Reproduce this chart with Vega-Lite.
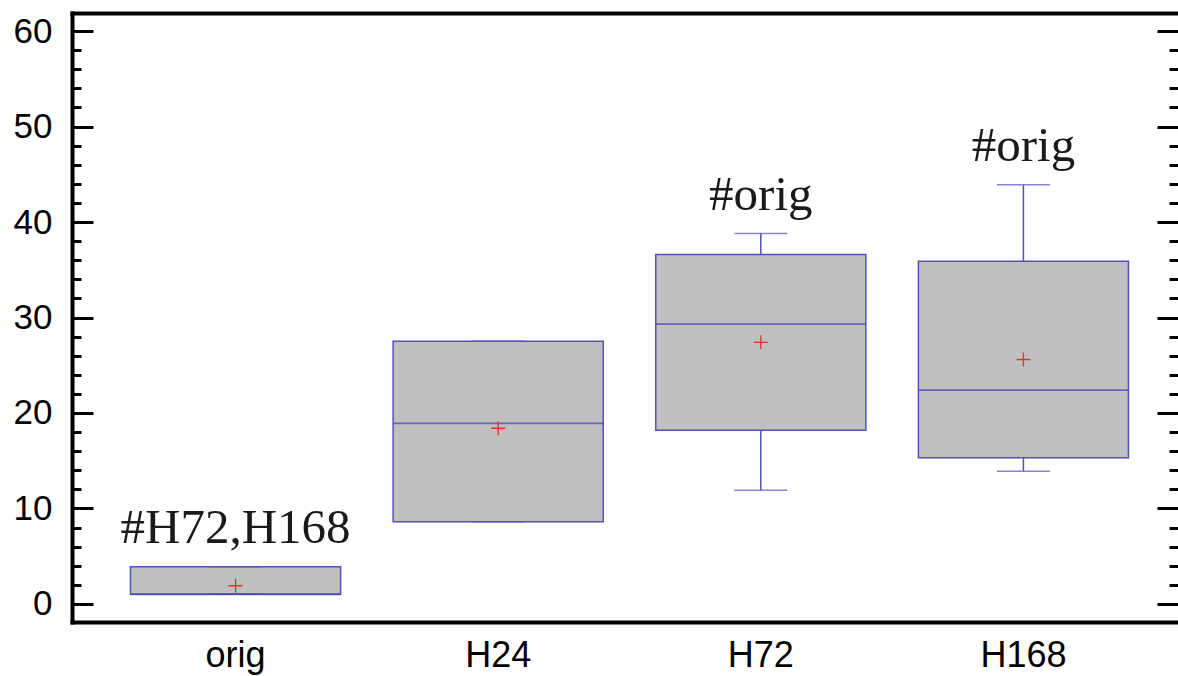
{
  "$schema": "https://vega.github.io/schema/vega-lite/v6.json",
  "width": 1106,
  "height": 609,
  "autosize": {"type": "none"},
  "padding": {"left": 72, "top": 13, "right": 0, "bottom": 54},
  "background": "white",
  "config": {
    "view": {"stroke": null},
    "axis": {
      "labelFont": "Liberation Sans",
      "labelFontSize": 35,
      "labelColor": "black",
      "domainColor": "black",
      "tickColor": "black",
      "grid": false,
      "title": null
    }
  },
  "data": {
    "values": [
      {"group": "orig", "min": 1.0, "q1": 1.0, "median": 1.0, "q3": 3.9, "max": 3.9, "mean": 1.9, "note": "#H72,H168"},
      {"group": "H24", "min": 8.6, "q1": 8.6, "median": 18.9, "q3": 27.5, "max": 27.5, "mean": 18.4, "note": ""},
      {"group": "H72", "min": 11.9, "q1": 18.2, "median": 29.3, "q3": 36.6, "max": 38.8, "mean": 27.4, "note": "#orig"},
      {"group": "H168", "min": 13.9, "q1": 15.3, "median": 22.4, "q3": 35.9, "max": 43.9, "mean": 25.6, "note": "#orig"}
    ]
  },
  "encoding": {
    "x": {
      "field": "group",
      "type": "nominal",
      "sort": ["orig", "H24", "H72", "H168"],
      "scale": {"paddingInner": 0, "paddingOuter": 0.1057, "align": 0.581},
      "axis": null
    }
  },
  "resolve": {"axis": {"x": "independent", "y": "independent"}},
  "layer": [
    {
      "mark": {"type": "bar", "width": {"band": 0.8}, "fill": "#c0c0c0", "stroke": "#5252b8", "strokeWidth": 1.5},
      "encoding": {
        "x": {
          "field": "group", "type": "nominal", "sort": ["orig", "H24", "H72", "H168"],
          "axis": {"orient": "bottom", "ticks": false, "labelAngle": 0, "labelPadding": 16, "labelFontSize": 36, "domainWidth": 4, "domainCap": "square"}
        },
        "y": {
          "field": "q1", "type": "quantitative",
          "scale": {"domain": [-1.9, 61.9], "nice": false, "zero": false},
          "axis": {
            "orient": "left",
            "values": [0, 2, 4, 6, 8, 10, 12, 14, 16, 18, 20, 22, 24, 26, 28, 30, 32, 34, 36, 38, 40, 42, 44, 46, 48, 50, 52, 54, 56, 58, 60],
            "tickSize": {"condition": {"test": "datum.value % 10 === 0", "value": -21}, "value": -9},
            "tickWidth": 3,
            "labelExpr": "datum.value % 10 === 0 ? datum.label : ''",
            "labelOverlap": false,
            "labelFlush": false,
            "labelPadding": 41,
            "domainWidth": 4,
            "domainCap": "square"
          }
        },
        "y2": {"field": "q3"}
      }
    },
    {
      "mark": {"type": "rule", "color": "#5252b8", "strokeWidth": 1.5},
      "encoding": {
        "y": {
          "field": "q3", "type": "quantitative",
          "scale": {"domain": [-1.9, 61.9], "nice": false, "zero": false},
          "axis": {
            "orient": "right",
            "values": [0, 2, 4, 6, 8, 10, 12, 14, 16, 18, 20, 22, 24, 26, 28, 30, 32, 34, 36, 38, 40, 42, 44, 46, 48, 50, 52, 54, 56, 58, 60],
            "tickSize": {"condition": {"test": "datum.value % 10 === 0", "value": -21}, "value": -9},
            "tickWidth": 3,
            "labels": false,
            "domain": false
          }
        },
        "y2": {"field": "max"}
      }
    },
    {
      "mark": {"type": "rule", "color": "#5252b8", "strokeWidth": 1.5},
      "encoding": {
        "y": {"field": "min", "type": "quantitative", "axis": null},
        "y2": {"field": "q1"}
      }
    },
    {
      "mark": {"type": "tick", "color": "#5252b8", "size": 53, "thickness": 1.5},
      "encoding": {
        "x": {
          "field": "group", "type": "nominal", "sort": ["orig", "H24", "H72", "H168"],
          "axis": {"orient": "top", "labels": false, "ticks": false, "domainWidth": 4, "domainCap": "square"}
        },
        "y": {"field": "max", "type": "quantitative", "axis": null}
      }
    },
    {
      "mark": {"type": "tick", "color": "#5252b8", "size": 53, "thickness": 1.5},
      "encoding": {
        "y": {"field": "min", "type": "quantitative", "axis": null}
      }
    },
    {
      "mark": {"type": "tick", "color": "#3f3fb0", "size": 210, "thickness": 1.8},
      "encoding": {
        "y": {"field": "median", "type": "quantitative", "axis": null}
      }
    },
    {
      "mark": {"type": "point", "shape": "M-1,0H1M0,-1V1", "size": 196, "filled": false, "stroke": "#e0302a", "strokeWidth": 1.3, "opacity": 1},
      "encoding": {
        "y": {"field": "mean", "type": "quantitative", "axis": null}
      }
    },
    {
      "mark": {"type": "text", "font": "Liberation Serif", "fontSize": 49, "color": "#1a1a1a", "baseline": "alphabetic", "align": "center", "dy": -24},
      "encoding": {
        "y": {"field": "max", "type": "quantitative", "axis": null},
        "text": {"field": "note"}
      }
    }
  ]
}
